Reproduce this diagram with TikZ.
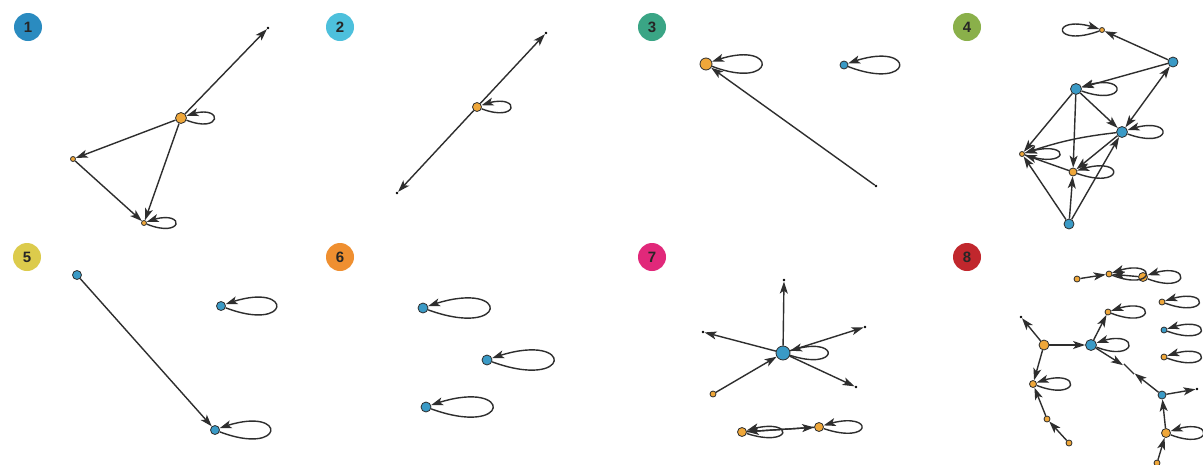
\documentclass[tikz,border=0pt]{standalone}
\usepackage{fontspec}
\setmainfont{Liberation Sans}
\usetikzlibrary{arrows.meta,bending}
\definecolor{nOrange}{HTML}{EFA73A}
\definecolor{nBlue}{HTML}{3A9AC6}
\definecolor{eGray}{HTML}{2E2E2E}
\definecolor{bA}{HTML}{2A8BC0}
\definecolor{bB}{HTML}{4DC0DC}
\definecolor{bC}{HTML}{3AA585}
\definecolor{bD}{HTML}{8AB04A}
\definecolor{bE}{HTML}{DCCB4C}
\definecolor{bF}{HTML}{EF8F30}
\definecolor{bG}{HTML}{E1287A}
\definecolor{bH}{HTML}{C1272D}
\tikzset{
  vtx/.style={circle, draw=eGray, line width=0.8pt, inner sep=0pt},
  ov/.style={vtx, fill=nOrange, minimum size=#1},
  bv/.style={vtx, fill=nBlue, minimum size=#1},
  dotv/.style={circle, fill=black, inner sep=0pt, minimum size=2.8pt},
  ghost/.style={circle, inner sep=0pt, minimum size=14pt},
  edge/.style={draw=eGray, line width=1.4pt, -{Stealth[length=12pt,width=8pt,inset=3pt]}},
  biedge/.style={draw=eGray, line width=1.4pt, {Stealth[length=12pt,width=8pt,inset=3pt]}-{Stealth[length=12pt,width=8pt,inset=3pt]}},
  badge/.style={circle, fill=#1, minimum size=28pt, inner sep=0pt, font=\bfseries\fontsize{15}{15}\selectfont, text=black!85}
}
\newcommand\selfloop[3]{\draw[edge] (#1) .. controls +(#2,#3) and +(#2,-#3) .. (#1);}
\begin{document}
\begin{tikzpicture}[x=1pt,y=-1pt]
\useasboundingbox[fill=white] (0,0) rectangle (1203,464);
% ---------- panel 1
\node[badge=bA] (B1) at (28,27) {1};
\node[dotv] (p1t) at (268,28) {};
\node[ov=11pt] (p1a) at (181,118) {};
\node[ov=5pt] (p1l) at (73,159) {};
\node[ov=5pt] (p1b) at (144,223) {};
\draw[edge] (p1a) -- (p1t);
\draw[edge] (p1a) -- (p1l);
\draw[edge] (p1a) -- (p1b);
\draw[edge] (p1l) -- (p1b);
\selfloop{p1a}{43}{17}
\selfloop{p1b}{42}{17}
% ---------- panel 2
\node[badge=bB] (B2) at (340,27) {2};
\node[dotv] (p2t) at (546,33) {};
\node[ov=9pt] (p2a) at (477,107) {};
\node[dotv] (p2b) at (397,193) {};
\draw[edge] (p2a) -- (p2t);
\draw[edge] (p2a) -- (p2b);
\selfloop{p2a}{44}{17}
% ---------- panel 3
\node[badge=bC] (B3) at (652,27) {3};
\node[ov=12pt] (p3a) at (706,64) {};
\node[bv=8pt] (p3b) at (844,65) {};
\node[dotv] (p3c) at (876,186) {};
\draw[edge] (p3c) -- (p3a);
\selfloop{p3a}{73}{28}
\selfloop{p3b}{73}{28}
% ---------- panel 4
\node[badge=bD] (B4) at (967,27) {4};
\node[ov=5pt] (p4t) at (1102,30) {};
\node[bv=10pt] (p4r) at (1173,62) {};
\node[bv=11pt] (p4a) at (1076,89) {};
\node[bv=11pt] (p4b) at (1122,132) {};
\node[ov=5pt] (p4l) at (1022,154) {};
\node[ov=8pt] (p4m) at (1073,172) {};
\node[bv=10pt] (p4d) at (1069,224) {};
\draw[edge] (p4r) -- (p4t);
\draw[edge] (p4r) -- (p4a);
\draw[biedge] (p4r) -- (p4b);
\draw[edge] (p4a) -- (p4l);
\draw[edge] (p4a) -- (p4m);
\draw[edge] (p4a) -- (p4b);
\draw[edge] (p4b) to[bend right=6] (p4l);
\draw[edge] (p4b) -- (p4m);
\draw[edge] (p4d) -- (p4l);
\draw[edge] (p4d) -- (p4b);
\draw[edge] (p4d) -- (p4m);
\draw[edge] (p4m) -- (p4l);
\selfloop{p4t}{-52}{19}
\selfloop{p4a}{53}{19}
\selfloop{p4b}{53}{19}
\selfloop{p4l}{50}{17}
\selfloop{p4m}{53}{19}
% ---------- panel 5
\node[badge=bE] (B5) at (27,257) {5};
\node[bv=9pt] (p5a) at (77,275) {};
\node[bv=9pt] (p5b) at (221,306) {};
\node[bv=9pt] (p5c) at (215,430) {};
\draw[edge] (p5a) -- (p5c);
\selfloop{p5b}{73}{28}
\selfloop{p5c}{73}{28}
% ---------- panel 6
\node[badge=bF] (B6) at (340,257) {6};
\node[bv=10pt] (p6a) at (423,308) {};
\node[bv=10pt] (p6b) at (487,360) {};
\node[bv=10pt] (p6c) at (426,407) {};
\selfloop{p6a}{88}{32}
\selfloop{p6b}{88}{32}
\selfloop{p6c}{88}{32}
% ---------- panel 7
\node[badge=bG] (B7) at (652,257) {7};
\node[bv=14pt] (p7c) at (783,353) {};
\node[dotv] (p7t) at (784,280) {};
\node[dotv] (p7l) at (703,332) {};
\node[dotv] (p7r) at (865,327) {};
\node[dotv] (p7s) at (856,387) {};
\node[ov=6pt] (p7o) at (713,394) {};
\node[ov=9pt] (p7x) at (742,432) {};
\node[ov=9pt] (p7y) at (819,427) {};
\draw[edge] (p7c) -- (p7t);
\draw[edge] (p7c) -- (p7l);
\draw[edge] (p7c) -- (p7r);
\draw[edge] (p7c) -- (p7s);
\draw[edge] (p7o) -- (p7c);
\draw[edge] (p7x) -- (p7y);
\draw[edge] (p7y) -- (p7x);
\selfloop{p7c}{58}{19}
\selfloop{p7x}{53}{17}
\selfloop{p7y}{56}{19}
% ---------- panel 8
\node[badge=bH] (B8) at (967,257) {8};
\node[ov=6pt] (p8a) at (1077,279) {};
\node[ov=6pt] (p8b) at (1109,274) {};
\node[ov=9pt] (p8c) at (1143,277) {};
\draw[edge] (p8a) -- (p8b);
\draw[edge] (p8c) -- (p8b);
\selfloop{p8b}{49}{19}
\selfloop{p8c}{49}{19}
\node[ov=6pt] (p8r1) at (1162,302) {};
\node[bv=6pt] (p8r2) at (1164,330) {};
\node[ov=6pt] (p8r3) at (1164,357) {};
\selfloop{p8r1}{49}{18}
\selfloop{p8r2}{49}{18}
\selfloop{p8r3}{49}{18}
\node[dotv] (p8d) at (1021,317) {};
\node[ov=10pt] (p8e) at (1044,345) {};
\node[bv=11pt] (p8f) at (1091,345) {};
\node[ov=6pt] (p8g) at (1108,312) {};
\node[ov=7pt] (p8h) at (1033,384) {};
\node[ov=6pt] (p8i) at (1047,419) {};
\node[ov=6pt] (p8j) at (1069,443) {};
\node[bv=8pt] (p8k) at (1162,395) {};
\node[dotv] (p8l) at (1197,389) {};
\node[ov=9pt] (p8m) at (1166,433) {};
\node[ov=6pt] (p8n) at (1157,463) {};
\node[ghost] (p8z) at (1129,369) {};
\draw[edge] (p8e) -- (p8d);
\draw[edge] (p8e) -- (p8f);
\draw[edge] (p8e) -- (p8h);
\draw[edge] (p8i) -- (p8h);
\draw[edge] (p8j) -- (p8i);
\draw[edge] (p8f) -- (p8g);
\draw[edge] (p8f) -- (p8z);
\draw[edge] (p8k) -- (p8z);
\draw[eGray, line width=1.4pt] (p8z.north west) -- (p8z.south east);
\draw[edge] (p8k) -- (p8l);
\draw[edge] (p8m) -- (p8k);
\draw[edge] (p8n) -- (p8m);
\selfloop{p8f}{49}{19}
\selfloop{p8g}{49}{19}
\selfloop{p8h}{49}{19}
\selfloop{p8m}{49}{19}
\end{tikzpicture}
\end{document}
